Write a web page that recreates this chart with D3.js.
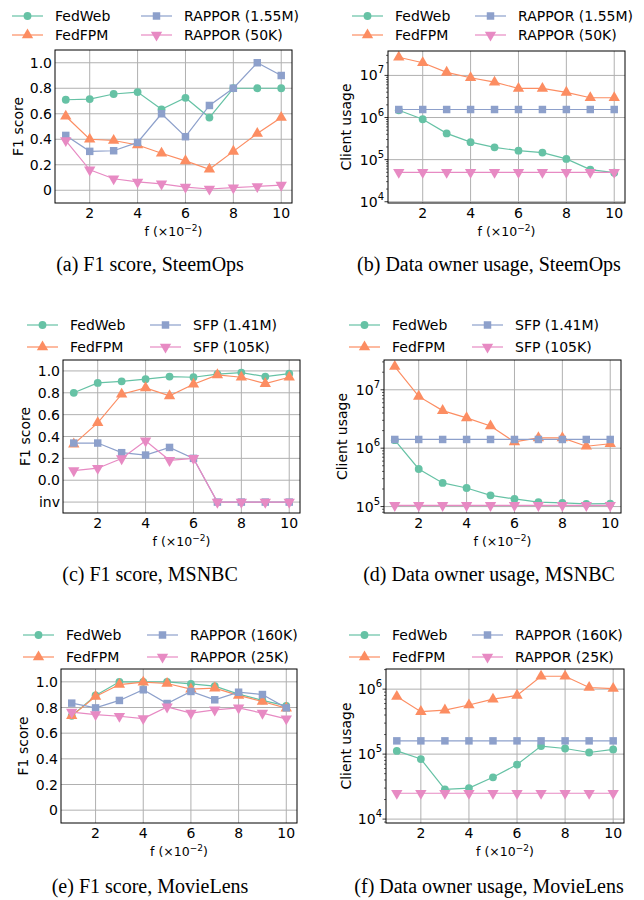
<!DOCTYPE html>
<html>
<head>
<meta charset="utf-8">
<script src="https://cdn.jsdelivr.net/npm/d3@7"></script>
<style>
  body { margin: 0; background: #fff; }
  svg text { font-family: "DejaVu Sans", sans-serif; fill: #000; }
  svg text.caption { font-family: "Liberation Serif", "Times New Roman", serif; }
</style>
</head>
<body>
<svg id="fig" width="644" height="900"></svg>
<script>
// x values (f, in units of 10^-2) and axis ticks
const fValues = [1, 2, 3, 4, 5, 6, 7, 8, 9, 10];
const xTicks = [2, 4, 6, 8, 10];
const f1Ticks = [0, 0.2, 0.4, 0.6, 0.8, 1.0];
const f1TicksInv = ["inv", 0, 0.2, 0.4, 0.6, 0.8, 1.0];

// (a) F1 score, SteemOps
const steemF1FedWeb = [0.71, 0.715, 0.755, 0.77, 0.635, 0.725, 0.57, 0.80, 0.80, 0.80];
const steemF1FedFPM = [0.58, 0.40, 0.39, 0.355, 0.29, 0.23, 0.165, 0.305, 0.445, 0.57];
const steemF1RapporBig = [0.43, 0.305, 0.31, 0.375, 0.60, 0.42, 0.665, 0.80, 1.0, 0.90];
const steemF1RapporSmall = [0.39, 0.16, 0.09, 0.065, 0.05, 0.025, 0.01, 0.02, 0.03, 0.04];

// (b) Data owner usage, SteemOps
const steemUseFedWeb = [1.49e6, 9.1e5, 4.2e5, 2.6e5, 1.96e5, 1.63e5, 1.47e5, 1.04e5, 5.8e4, 4.9e4];
const steemUseFedFPM = [2.7e7, 2.0e7, 1.18e7, 8.8e6, 6.9e6, 4.9e6, 4.9e6, 3.95e6, 2.95e6, 2.95e6];
const steemUseRapporBig = [1.55e6, 1.55e6, 1.55e6, 1.55e6, 1.55e6, 1.55e6, 1.55e6, 1.55e6, 1.55e6, 1.55e6];
const steemUseRapporSmall = [5e4, 5e4, 5e4, 5e4, 5e4, 5e4, 5e4, 5e4, 5e4, 5e4];

// (c) F1 score, MSNBC  ("inv" = invalid result)
const msnbcF1FedWeb = [0.80, 0.89, 0.905, 0.925, 0.948, 0.942, 0.97, 0.985, 0.948, 0.975];
const msnbcF1FedFPM = [0.33, 0.525, 0.787, 0.845, 0.772, 0.878, 0.964, 0.942, 0.884, 0.942];
const msnbcF1SfpBig = [0.34, 0.34, 0.252, 0.23, 0.30, 0.20, "inv", "inv", "inv", "inv"];
const msnbcF1SfpSmall = [0.088, 0.11, 0.198, 0.36, 0.182, 0.20, "inv", "inv", "inv", "inv"];

// (d) Data owner usage, MSNBC
const msnbcUseFedWeb = [1.37e6, 4.4e5, 2.54e5, 2.08e5, 1.56e5, 1.35e5, 1.19e5, 1.16e5, 1.11e5, 1.12e5];
const msnbcUseFedFPM = [2.5e7, 7.7e6, 4.4e6, 3.3e6, 2.4e6, 1.28e6, 1.5e6, 1.5e6, 1.08e6, 1.19e6];
const msnbcUseSfpBig = [1.41e6, 1.41e6, 1.41e6, 1.41e6, 1.41e6, 1.41e6, 1.41e6, 1.41e6, 1.41e6, 1.41e6];
const msnbcUseSfpSmall = [1.05e5, 1.05e5, 1.05e5, 1.05e5, 1.05e5, 1.05e5, 1.05e5, 1.05e5, 1.05e5, 1.05e5];

// (e) F1 score, MovieLens
const movieF1FedWeb = [0.735, 0.894, 1.0, 1.0, 1.0, 0.984, 0.966, 0.904, 0.855, 0.813];
const movieF1FedFPM = [0.735, 0.886, 0.979, 0.997, 0.987, 0.943, 0.951, 0.894, 0.847, 0.795];
const movieF1RapporBig = [0.834, 0.797, 0.855, 0.938, 0.831, 0.925, 0.86, 0.919, 0.901, 0.797];
const movieF1RapporSmall = [0.764, 0.745, 0.732, 0.714, 0.805, 0.756, 0.782, 0.797, 0.756, 0.712];

// (f) Data owner usage, MovieLens
const movieUseFedWeb = [1.12e5, 8.4e4, 2.86e4, 3.0e4, 4.4e4, 6.9e4, 1.33e5, 1.22e5, 1.06e5, 1.18e5];
const movieUseFedFPM = [7.7e5, 4.5e5, 4.75e5, 5.7e5, 7.0e5, 8.0e5, 1.58e6, 1.58e6, 1.06e6, 1.02e6];
const movieUseRapporBig = [1.6e5, 1.6e5, 1.6e5, 1.6e5, 1.6e5, 1.6e5, 1.6e5, 1.6e5, 1.6e5, 1.6e5];
const movieUseRapporSmall = [2.5e4, 2.5e4, 2.5e4, 2.5e4, 2.5e4, 2.5e4, 2.5e4, 2.5e4, 2.5e4, 2.5e4];

// series names per panel
const steemNames = ["FedWeb", "FedFPM", "RAPPOR (1.55M)", "RAPPOR (50K)"];
const msnbcNames = ["FedWeb", "FedFPM", "SFP (1.41M)", "SFP (105K)"];
const movieNames = ["FedWeb", "FedFPM", "RAPPOR (160K)", "RAPPOR (25K)"];

const colors = ["#66c2a5", "#fc8d62", "#8da0cb", "#e78ac3"];
const symbols = [d3.symbolCircle, d3.symbolTriangle, d3.symbolSquare, "down"];

const svg = d3.select("#fig");

// one panel per subfigure; box = plot frame, legend = [col1 x, col2 x, row1 y, row2 y]
const panels = [
  { box: [55, 292, 50, 203], kind: "f1", yTicks: f1Ticks, zero: "0", yDomain: [-0.1, 1.1],
    series: [steemF1FedWeb, steemF1FedFPM, steemF1RapporBig, steemF1RapporSmall], names: steemNames,
    yLabel: "F1 score", yLabelX: 23, legend: [12, 141, 16, 35], caption: "(a) F1 score, SteemOps", capX: 150, capY: 271 },
  { box: [388, 625, 51, 203], kind: "log", yDomain: [Math.pow(10, 3.97), Math.pow(10, 7.58)],
    series: [steemUseFedWeb, steemUseFedFPM, steemUseRapporBig, steemUseRapporSmall], names: steemNames,
    yLabel: "Client usage", yLabelX: 351, legend: [352, 475, 16, 35], caption: "(b) Data owner usage, SteemOps", capX: 489, capY: 271 },
  { box: [63, 300, 360, 513], kind: "f1", yTicks: f1TicksInv, zero: "0.0", yDomain: [-0.3, 1.1],
    series: [msnbcF1FedWeb, msnbcF1FedFPM, msnbcF1SfpBig, msnbcF1SfpSmall], names: msnbcNames,
    yLabel: "F1 score", yLabelX: 30, legend: [27, 150, 325, 347], caption: "(c) F1 score, MSNBC", capX: 150, capY: 581 },
  { box: [384, 621, 360, 513], kind: "log", yDomain: [Math.pow(10, 4.89), Math.pow(10, 7.51)],
    series: [msnbcUseFedWeb, msnbcUseFedFPM, msnbcUseSfpBig, msnbcUseSfpSmall], names: msnbcNames,
    yLabel: "Client usage", yLabelX: 347, legend: [349, 472, 325, 347], caption: "(d) Data owner usage, MSNBC", capX: 489, capY: 581 },
  { box: [61, 297, 669, 823], kind: "f1", yTicks: f1Ticks, zero: "0", yDomain: [-0.1, 1.1],
    series: [movieF1FedWeb, movieF1FedFPM, movieF1RapporBig, movieF1RapporSmall], names: movieNames,
    yLabel: "F1 score", yLabelX: 28, legend: [23, 147, 635, 657], caption: "(e) F1 score, MovieLens", capX: 150, capY: 893 },
  { box: [386, 624, 669, 823], kind: "log", yDomain: [Math.pow(10, 3.94), Math.pow(10, 6.31)],
    series: [movieUseFedWeb, movieUseFedFPM, movieUseRapporBig, movieUseRapporSmall], names: movieNames,
    yLabel: "Client usage", yLabelX: 351, legend: [349, 472, 635, 657], caption: "(f) Data owner usage, MovieLens", capX: 489, capY: 893 }
];

function markerPath(i) {
  if (symbols[i] === "down") {
    return d3.symbol().type(d3.symbolTriangle).size(56)();
  }
  const sizes = [48, 56, 56];
  return d3.symbol().type(symbols[i]).size(sizes[i])();
}

function drawPanel(p) {
  const [left, right, top, bottom] = p.box;
  const g = svg.append("g");

  const x = d3.scaleLinear().domain([0.55, 10.45]).range([left, right]);
  let y, yv;
  if (p.kind === "log") {
    y = d3.scaleLog().domain(p.yDomain).range([bottom, top]);
    yv = v => y(v);
  } else {
    y = d3.scaleLinear().domain(p.yDomain).range([bottom, top]);
    yv = v => y(v === "inv" ? -0.2 : v);
  }

  // grid
  xTicks.forEach(t => {
    g.append("line").attr("x1", x(t)).attr("x2", x(t)).attr("y1", top).attr("y2", bottom)
      .attr("stroke", "#b0b0b0").attr("stroke-width", 1);
  });

  let majors;
  if (p.kind === "log") {
    majors = [];
    const lo = Math.ceil(Math.log10(p.yDomain[0])), hi = Math.floor(Math.log10(p.yDomain[1]));
    for (let k = lo; k <= hi; k++) majors.push(Math.pow(10, k));
  } else {
    majors = p.yTicks;
  }
  majors.forEach(t => {
    g.append("line").attr("x1", left).attr("x2", right).attr("y1", yv(t)).attr("y2", yv(t))
      .attr("stroke", "#b0b0b0").attr("stroke-width", 1);
  });

  // y tick labels
  if (p.kind === "log") {
    majors.forEach(t => {
      const txt = g.append("text").attr("x", left - 4).attr("y", y(t) + 5)
        .attr("text-anchor", "end").attr("font-size", 14);
      txt.append("tspan").text("10");
      txt.append("tspan").attr("dy", -7).attr("font-size", 10).text(Math.round(Math.log10(t)));
    });
    // minor ticks
    const lo = Math.floor(Math.log10(p.yDomain[0])), hi = Math.ceil(Math.log10(p.yDomain[1]));
    for (let k = lo; k < hi; k++) {
      for (let m = 2; m <= 9; m++) {
        const v = m * Math.pow(10, k);
        if (v < p.yDomain[0] || v > p.yDomain[1]) continue;
        g.append("line").attr("x1", left - 2).attr("x2", left).attr("y1", y(v)).attr("y2", y(v))
          .attr("stroke", "#000").attr("stroke-width", 0.6);
      }
    }
    majors.forEach(t => {
      g.append("line").attr("x1", left - 3.5).attr("x2", left).attr("y1", y(t)).attr("y2", y(t))
        .attr("stroke", "#000").attr("stroke-width", 0.8);
    });
  } else {
    majors.forEach(t => {
      let label = t === "inv" ? "inv" : (t === 0 ? p.zero : d3.format(".1f")(t));
      g.append("text").attr("x", left - 3).attr("y", yv(t) + 5)
        .attr("text-anchor", "end").attr("font-size", 14).text(label);
    });
  }

  // x tick labels
  xTicks.forEach(t => {
    g.append("text").attr("x", x(t)).attr("y", bottom + 15)
      .attr("text-anchor", "middle").attr("font-size", 14).text(t);
  });

  // series
  const line = d3.line().x((d, i) => x(fValues[i])).y(d => yv(d));
  p.series.forEach((s, i) => {
    g.append("path").datum(s).attr("d", line)
      .attr("fill", "none").attr("stroke", colors[i]).attr("stroke-width", 1.2);
    const mp = markerPath(i);
    const rot = symbols[i] === "down" ? " rotate(180)" : "";
    s.forEach((v, j) => {
      g.append("path").attr("d", mp)
        .attr("transform", `translate(${x(fValues[j])},${yv(v)})${rot}`)
        .attr("fill", colors[i]);
    });
  });

  // frame
  g.append("rect").attr("x", left).attr("y", top).attr("width", right - left).attr("height", bottom - top)
    .attr("fill", "none").attr("stroke", "#000").attr("stroke-width", 1);

  // axis labels
  g.append("text").attr("transform", `translate(${p.yLabelX},${(top + bottom) / 2}) rotate(-90)`)
    .attr("text-anchor", "middle").attr("font-size", 14).text(p.yLabel);

  const xl = g.append("text").attr("x", (left + right) / 2).attr("y", bottom + 33)
    .attr("text-anchor", "middle").attr("font-size", 12.5);
  xl.append("tspan").text("f (×10");
  xl.append("tspan").attr("dy", -5).attr("font-size", 9).text("−2");
  xl.append("tspan").attr("dy", 5).text(")");

  // legend (2 columns x 2 rows)
  const [c1, c2, r1, r2] = p.legend;
  const spots = [[c1, r1], [c1, r2], [c2, r1], [c2, r2]];
  p.names.forEach((name, i) => {
    const [lx, ly] = spots[i];
    g.append("line").attr("x1", lx).attr("x2", lx + 31).attr("y1", ly).attr("y2", ly)
      .attr("stroke", colors[i]).attr("stroke-width", 1.2);
    const rot = symbols[i] === "down" ? " rotate(180)" : "";
    g.append("path").attr("d", markerPath(i))
      .attr("transform", `translate(${lx + 15.5},${ly})${rot}`).attr("fill", colors[i]);
    g.append("text").attr("x", lx + 43).attr("y", ly + 5).attr("font-size", 14).text(name);
  });

  // caption
  svg.append("text").attr("class", "caption").attr("x", p.capX).attr("y", p.capY)
    .attr("text-anchor", "middle").attr("font-size", 20).text(p.caption);
}

panels.forEach(drawPanel);
</script>
</body>
</html>
